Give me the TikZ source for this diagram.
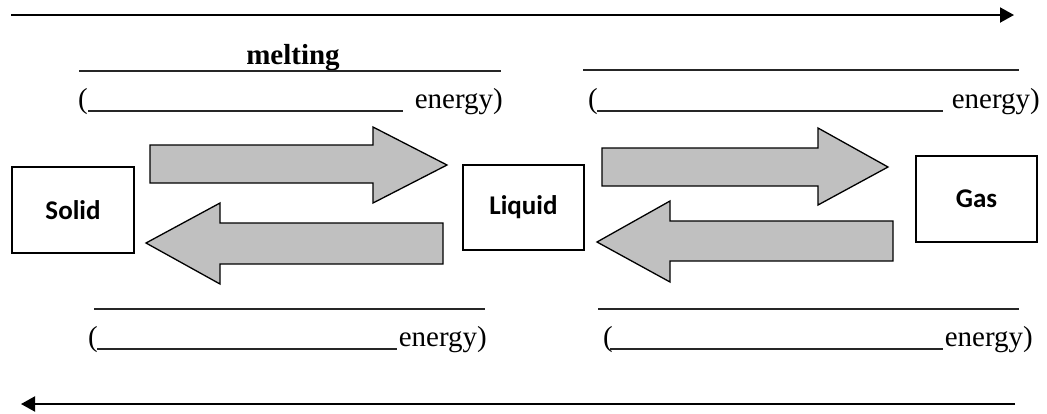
\documentclass[tikz,border=0pt]{standalone}
\usepackage{fontspec}
\setmainfont{Liberation Serif}
\newfontfamily\calib{Carlito}
\usetikzlibrary{arrows.meta}
\definecolor{blockgray}{HTML}{C0C0C0}
\begin{document}
\begin{tikzpicture}[x=1pt,y=-1pt,
  statebox/.style={draw=black, line width=1.3pt, fill=white, inner sep=0pt,
    font=\calib\bfseries\fontsize{27}{30}\selectfont},
  blockarrow/.style={draw=black, line width=1.3pt, fill=blockgray, line join=miter},
  serif/.style={font=\fontsize{29}{32}\selectfont, inner sep=0pt},
  serifbold/.style={font=\bfseries\fontsize{29}{32}\selectfont, inner sep=0pt},
  blank/.style={line width=1.4pt, black!85},
  timeline/.style={line width=2pt, -{Triangle[length=14pt,width=15pt]}}]
\useasboundingbox (0,0) rectangle (1047,413);

% timelines
\coordinate (tl1) at (11,15);
\coordinate (tl2) at (1014,15);
\coordinate (bl1) at (1015,404);
\coordinate (bl2) at (21,404);
\draw[timeline] (tl1) -- (tl2);
\draw[timeline] (bl1) -- (bl2);

% state boxes
\node[statebox, minimum width=122pt, minimum height=86pt] (solid) at (73,210) {Solid};
\node[statebox, minimum width=121pt, minimum height=85pt] (liquid) at (523.5,207.5) {Liquid};
\node[statebox, minimum width=121pt, minimum height=86pt] (gas) at (976.5,199) {Gas};

% block arrows
\draw[blockarrow] (150,145) -- (373,145) -- (373,127) -- (447,165) -- (373,203) -- (373,183) -- (150,183) -- cycle;
\draw[blockarrow] (146,243) -- (220,203) -- (220,223) -- (443,223) -- (443,264) -- (220,264) -- (220,284) -- cycle;
\draw[blockarrow] (602,148) -- (818,148) -- (818,128) -- (888,167) -- (818,205) -- (818,186) -- (602,186) -- cycle;
\draw[blockarrow] (597,242) -- (670,201) -- (670,221) -- (893,221) -- (893,261) -- (670,261) -- (670,282) -- cycle;

% top left
\node[serifbold, anchor=base] (melt) at (293,64) {melting};
\draw[blank, line width=2pt] (79,71) -- (501,71);
\node[serif, anchor=base west] (p1) at (78,108) {(};
\node[serif, anchor=base east] (e1) at (503,108) {energy)};
\draw[blank] (88,111) -- (403,111);

% top right
\draw[blank] (583,70) -- (1019,70);
\node[serif, anchor=base west] (p2) at (588,108) {(};
\node[serif, anchor=base east] (e2) at (1040,108) {energy)};
\draw[blank] (597,111) -- (943,111);

% bottom left
\draw[blank] (94,309) -- (485,309);
\node[serif, anchor=base west] (p3) at (88,346) {(};
\node[serif, anchor=base east] (e3) at (487,346) {energy)};
\draw[blank] (97,349) -- (397,349);

% bottom right
\draw[blank] (598,309) -- (1019,309);
\node[serif, anchor=base west] (p4) at (603,346) {(};
\node[serif, anchor=base east] (e4) at (1033,346) {energy)};
\draw[blank] (610,349) -- (943,349);
\end{tikzpicture}
\end{document}
